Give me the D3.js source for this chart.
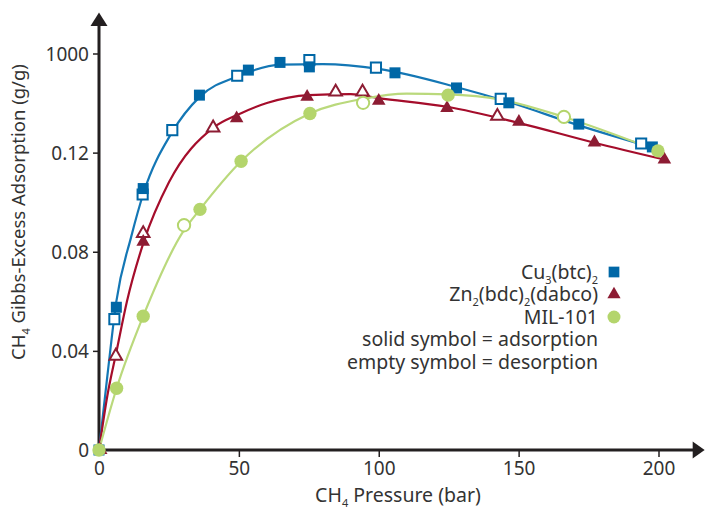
<!DOCTYPE html>
<html lang="en">
<head>
<meta charset="UTF-8">
<title>CH4 Gibbs-Excess Adsorption</title>
<script src="https://d3js.org/d3.v7.min.js"></script>
<style>
    body { margin: 0; background: #fff; }
    svg text { font-family: "Noto Sans", "DejaVu Sans", sans-serif; fill: #333; }
    .axis text { font-size: 19px; }
    .axis line { stroke: #231f20; stroke-width: 1.5; }
</style>
</head>
<body>
<div id="chart"></div>
<script>
// ticks
var xTicks = [0, 50, 100, 150, 200];
var yTicks = [0, 0.04, 0.08, 0.12, 0.16];
var yTickLabels = ["0", "0.04", "0.08", "0.12", "1000"];

// Cu3(btc)2
var cuAds = [[0, 0], [6.2, 0.0576], [15.8, 0.1055], [35.9, 0.1432], [53.4, 0.1533], [64.7, 0.1564],
    [75.2, 0.1546], [105.8, 0.1522], [127.8, 0.1461], [146.5, 0.1401], [171.5, 0.1315], [197.8, 0.1223]];
var cuDes = [[5.5, 0.0528], [15.6, 0.1031], [26.2, 0.1291], [49.4, 0.1510], [75.2, 0.1573],
    [99.0, 0.1543], [143.6, 0.1417], [193.8, 0.1237]];
var cuFit = [[0, 0], [3, 0.030], [6.2, 0.060], [11.5, 0.086], [16, 0.104], [26, 0.128], [36, 0.1425],
    [50, 0.151], [65, 0.1555], [80, 0.1557], [100, 0.1538], [128, 0.1464], [146.5, 0.1404],
    [171.5, 0.131], [198, 0.122]];

// Zn2(bdc)2(dabco)
var znAds = [[0.6, 0], [15.8, 0.0840], [49.2, 0.1338], [74.4, 0.1425], [100, 0.1409], [124.4, 0.1380],
    [150.1, 0.1324], [177.1, 0.1241], [202.1, 0.1172]];
var znDes = [[6.0, 0.0379], [15.8, 0.0874], [40.8, 0.1300], [84.6, 0.1445], [94.2, 0.1445], [142.4, 0.1347]];
var znFit = [[0, 0], [3, 0.022], [6.3, 0.040], [10, 0.060], [16, 0.084], [25, 0.108], [40.8, 0.130],
    [50, 0.1355], [60, 0.1400], [75, 0.1432], [90, 0.1436], [100, 0.1420], [124.4, 0.1385],
    [150, 0.132], [177, 0.124], [202.1, 0.1172]];

// MIL-101
var milAds = [[0, 0], [6.3, 0.0249], [15.8, 0.0540], [36.1, 0.0971], [50.8, 0.1165], [75.4, 0.1358],
    [124.8, 0.1432], [199.8, 0.1207]];
var milDes = [[30.4, 0.0907], [94.4, 0.1401], [166.2, 0.1344]];
var milFit = [[0, 0], [6.3, 0.0249], [15.8, 0.0540], [30, 0.088], [36.1, 0.0971], [50.8, 0.1165],
    [75.4, 0.1358], [94.4, 0.1417], [110, 0.1438], [124.8, 0.1435], [143.6, 0.1414], [166.2, 0.1344],
    [199.8, 0.1207]];

var series = [
    { name: ["Cu", "3", "(btc)", "2", ""], shape: d3.symbolSquare, size: 121, mark: "#0067a6", line: "#1477b5", ads: cuAds, des: cuDes, fit: cuFit },
    { name: ["Zn", "2", "(bdc)", "2", "(dabco)"], shape: d3.symbolTriangle, size: 80, mark: "#8d1c33", line: "#a50d2b", ads: znAds, des: znDes, fit: znFit },
    { name: ["MIL-101"], shape: d3.symbolCircle, size: 140, mark: "#b4d56c", line: "#bad97c", ads: milAds, des: milDes, fit: milFit }
];
var notes = ["solid symbol = adsorption", "empty symbol = desorption"];

var W = 705, H = 510;
var svg = d3.select("#chart").append("svg").attr("width", W).attr("height", H);

var x = d3.scaleLinear().domain([0, 200]).range([99, 658.5]);
var y = d3.scaleLinear().domain([0, 0.16]).range([450, 53.5]);

// axes
var xAxis = svg.append("g").attr("class", "axis")
    .attr("transform", "translate(0," + y(0) + ")")
    .call(d3.axisBottom(x).tickValues(xTicks).tickSize(7).tickSizeOuter(0).tickPadding(5));
xAxis.select(".domain").remove();
xAxis.selectAll(".tick").filter(function (d) { return d === 0; }).select("line").remove();

var yAxis = svg.append("g").attr("class", "axis")
    .attr("transform", "translate(" + x(0) + ",0)")
    .call(d3.axisLeft(y).tickValues(yTicks).tickSize(6).tickSizeOuter(0).tickPadding(4)
        .tickFormat(function (d, i) { return yTickLabels[i]; }));
yAxis.select(".domain").remove();
yAxis.selectAll(".tick text").attr("dy", "0.36em");

var xEnd = 216.5, yEnd = 0.1765;
svg.append("line").attr("x1", x(-1.8)).attr("x2", x(xEnd) - 8).attr("y1", y(0)).attr("y2", y(0))
    .attr("stroke", "#231f20").attr("stroke-width", 3);
svg.append("line").attr("x1", x(0)).attr("x2", x(0)).attr("y1", y(-0.0012)).attr("y2", y(yEnd) + 10)
    .attr("stroke", "#231f20").attr("stroke-width", 3);
svg.append("path")
    .attr("d", "M" + x(xEnd) + "," + y(0) + "l-12,-8.5v17z").attr("fill", "#231f20");
svg.append("path")
    .attr("d", "M" + x(0) + "," + y(yEnd) + "l-8.5,13.5h17z").attr("fill", "#231f20");

// axis titles
var xt = svg.append("text").attr("x", 398).attr("y", 502).attr("text-anchor", "middle").style("font-size", "19.5px");
xt.append("tspan").text("CH");
xt.append("tspan").text("4").style("font-size", "11px").attr("dy", 5);
xt.append("tspan").text(" Pressure (bar)").attr("dy", -5);

var yt = svg.append("text").attr("transform", "translate(25,212) rotate(-90)")
    .attr("text-anchor", "middle").style("font-size", "18.5px");
yt.append("tspan").text("CH");
yt.append("tspan").text("4").style("font-size", "11px").attr("dy", 5);
yt.append("tspan").text(" Gibbs-Excess Adsorption (g/g)").attr("dy", -5);

// fitted curves
var line = d3.line()
    .x(function (d) { return x(d[0]); })
    .y(function (d) { return y(d[1]); })
    .curve(d3.curveMonotoneX);

svg.selectAll(".fit")
    .data(series)
    .enter()
    .append("path")
    .attr("class", "fit")
    .attr("d", function (d) { return line(d.fit); })
    .attr("fill", "none")
    .attr("stroke", function (d) { return d.line; })
    .attr("stroke-width", 2.2);

// markers
series.forEach(function (s) {
    var emptyShape = d3.symbol().type(s.shape).size(s.size * 0.85);
    svg.append("g").selectAll("path")
        .data(s.des)
        .enter()
        .append("path")
        .attr("transform", function (d) { return "translate(" + x(d[0]) + "," + y(d[1]) + ")"; })
        .attr("d", emptyShape)
        .attr("fill", "#fff")
        .attr("stroke", s.mark)
        .attr("stroke-width", 2);

    var fullShape = d3.symbol().type(s.shape).size(s.size);
    svg.append("g").selectAll("path")
        .data(s.ads)
        .enter()
        .append("path")
        .attr("transform", function (d) { return "translate(" + x(d[0]) + "," + y(d[1]) + ")"; })
        .attr("d", fullShape)
        .attr("fill", s.mark);
});

// legend
var legend = svg.selectAll(".legend")
    .data(series)
    .enter()
    .append("g")
    .attr("class", "legend")
    .attr("transform", function (d, i) { return "translate(598," + (272 + i * 22.5) + ")"; });

legend.append("path")
    .attr("transform", "translate(16,0)")
    .attr("d", function (d) { return d3.symbol().type(d.shape).size(d.size * 0.95)(); })
    .attr("fill", function (d) { return d.mark; });

legend.each(function (d) {
    var t = d3.select(this).append("text")
        .attr("text-anchor", "end")
        .attr("dy", "0.35em")
        .style("font-size", "19.5px");
    d.name.forEach(function (part, j) {
        if (j % 2 === 1) {
            t.append("tspan").text(part).style("font-size", "11px").attr("dy", 5);
        } else {
            t.append("tspan").text(part).attr("dy", j === 0 ? null : -5);
        }
    });
});

svg.selectAll(".note")
    .data(notes)
    .enter()
    .append("text")
    .attr("class", "note")
    .attr("x", 598)
    .attr("y", function (d, i) { return 272 + (3 + i) * 22.5; })
    .attr("dy", "0.35em")
    .attr("text-anchor", "end")
    .style("font-size", "19.5px")
    .text(function (d) { return d; });
</script>
</body>
</html>
